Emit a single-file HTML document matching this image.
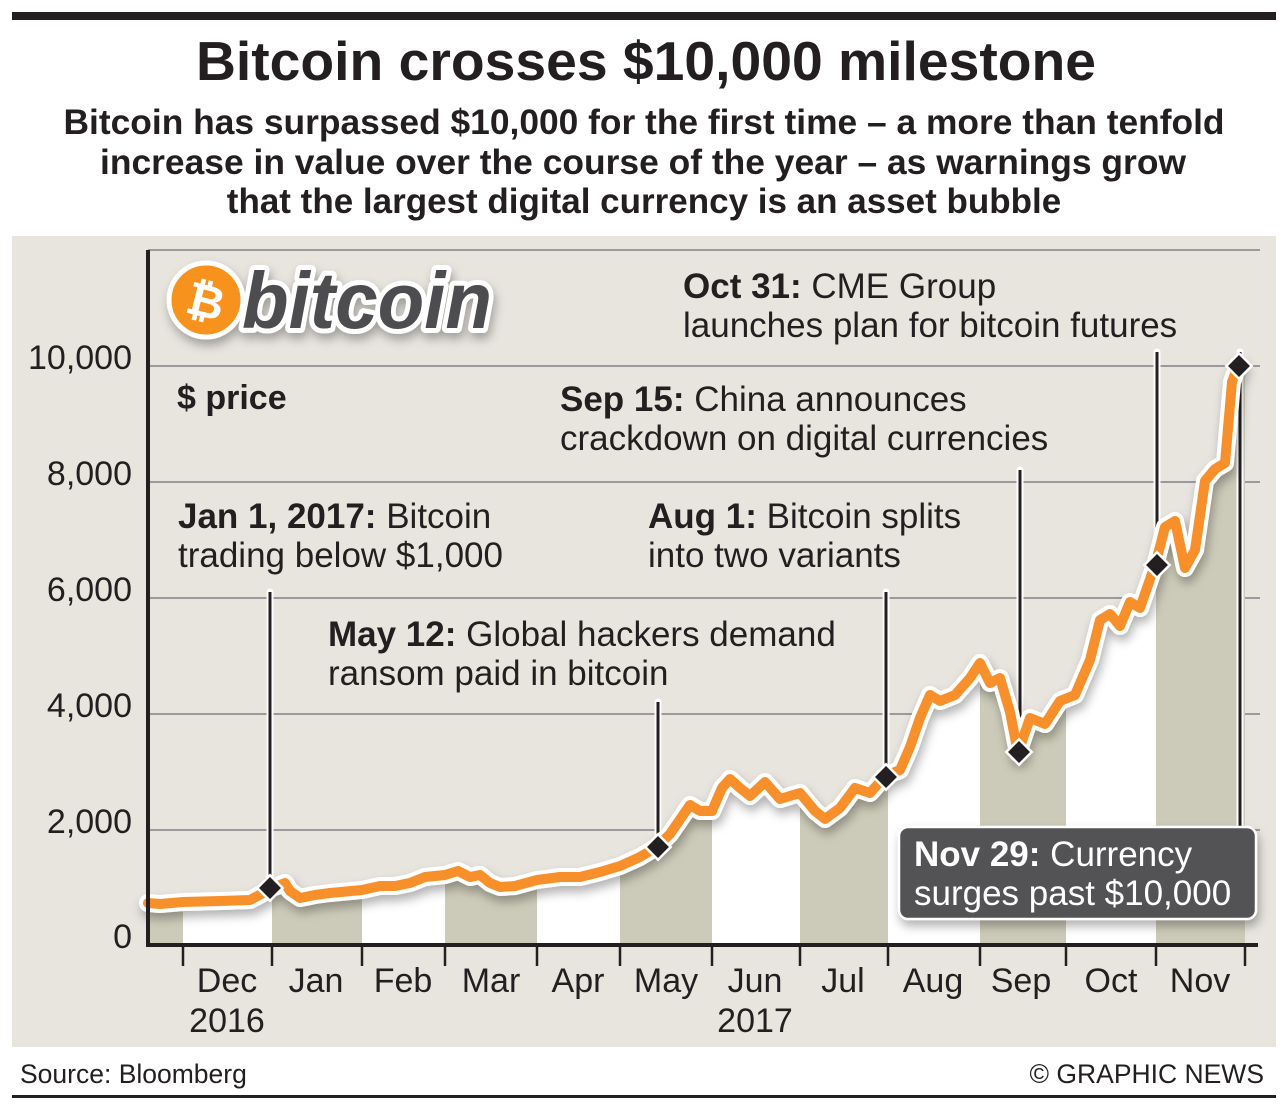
<!DOCTYPE html>
<html><head><meta charset="utf-8"><style>
body{margin:0;background:#fff;width:1288px;height:1108px;overflow:hidden}
svg{display:block}
text{font-family:"Liberation Sans",Arial,sans-serif;fill:#231f20}
</style></head><body>
<svg width="1288" height="1108" viewBox="0 0 1288 1108">
<defs>
<filter id="sh" x="-10%" y="-10%" width="130%" height="140%"><feDropShadow dx="2" dy="6" stdDeviation="5" flood-color="#000" flood-opacity="0.3"/></filter>
<clipPath id="under"><path id="areaP" d=""/></clipPath>
</defs>
<rect x="12" y="12" width="1264" height="8" fill="#231f20"/>
<text x="646" y="80" text-anchor="middle" font-size="55" font-weight="bold" textLength="900" lengthAdjust="spacingAndGlyphs">Bitcoin crosses $10,000 milestone</text>
<g font-size="35" font-weight="bold" text-anchor="middle">
<text x="644" y="134" textLength="1161" lengthAdjust="spacingAndGlyphs">Bitcoin has surpassed $10,000 for the first time – a more than tenfold</text>
<text x="643" y="174" textLength="1086" lengthAdjust="spacingAndGlyphs">increase in value over the course of the year – as warnings grow</text>
<text x="644" y="213">that the largest digital currency is an asset bubble</text>
</g>
<rect x="12" y="236" width="1264" height="811" fill="#e8e5df"/>
<g stroke="#9a9a9e" stroke-width="2">
<line x1="148" y1="250" x2="1260" y2="250"/>
<line x1="148" y1="366" x2="1260" y2="366"/>
<line x1="148" y1="482" x2="1260" y2="482"/>
<line x1="148" y1="598" x2="1260" y2="598"/>
<line x1="148" y1="714" x2="1260" y2="714"/>
<line x1="148" y1="830" x2="1260" y2="830"/>
</g>
<g id="bands" clip-path="url(#under)">
<rect x="148" y="300" width="1100" height="645" fill="#fff"/>
<g fill="#cccbb9">
<rect x="148" y="300" width="35" height="645"/>
<rect x="272" y="300" width="90" height="645"/>
<rect x="445" y="300" width="92" height="645"/>
<rect x="620" y="300" width="92" height="645"/>
<rect x="800" y="300" width="88" height="645"/>
<rect x="980" y="300" width="86" height="645"/>
<rect x="1156" y="300" width="89" height="645"/>
</g>
</g>
<g stroke="#fff" stroke-width="7" stroke-linecap="round">
<line x1="270" y1="592" x2="270" y2="888"/>
<line x1="658" y1="702" x2="658" y2="847"/>
<line x1="886" y1="592" x2="886" y2="777"/>
<line x1="1020" y1="470" x2="1020" y2="752"/>
<line x1="1157" y1="352" x2="1157" y2="565"/>
<line x1="1240" y1="352" x2="1240" y2="830"/>
</g>
<g stroke="#231f20" stroke-width="3">
<line x1="270" y1="592" x2="270" y2="888"/>
<line x1="658" y1="702" x2="658" y2="847"/>
<line x1="886" y1="592" x2="886" y2="777"/>
<line x1="1020" y1="470" x2="1020" y2="752"/>
<line x1="1157" y1="352" x2="1157" y2="565"/>
<line x1="1240" y1="352" x2="1240" y2="830"/>
</g>
<g id="line" fill="none" stroke-linejoin="round" stroke-linecap="round">
<polyline id="halo" points="" stroke="#fff" stroke-width="18" filter="url(#sh)"/>
<polyline id="core" points="" stroke="#f7902a" stroke-width="10"/>
</g>
<g fill="#231f20" stroke="#fff" stroke-width="2.5">
<rect x="-9" y="-9" width="18" height="18" transform="translate(270,888) rotate(45)"/>
<rect x="-9" y="-9" width="18" height="18" transform="translate(658,847) rotate(45)"/>
<rect x="-9" y="-9" width="18" height="18" transform="translate(886,777) rotate(45)"/>
<rect x="-9" y="-9" width="18" height="18" transform="translate(1019,752) rotate(45)"/>
<rect x="-9" y="-9" width="18" height="18" transform="translate(1157,565) rotate(45)"/>
<rect x="-9" y="-9" width="18" height="18" transform="translate(1239,366) rotate(45)"/>
</g>
<rect x="146" y="250" width="4" height="697" fill="#231f20"/>
<rect x="146" y="943" width="1112" height="4" fill="#231f20"/>
<g stroke="#231f20" stroke-width="2.5">
<line x1="183" y1="945" x2="183" y2="966"/><line x1="272" y1="945" x2="272" y2="966"/>
<line x1="362" y1="945" x2="362" y2="966"/><line x1="445" y1="945" x2="445" y2="966"/>
<line x1="537" y1="945" x2="537" y2="966"/><line x1="620" y1="945" x2="620" y2="966"/>
<line x1="712" y1="945" x2="712" y2="966"/><line x1="800" y1="945" x2="800" y2="966"/>
<line x1="888" y1="945" x2="888" y2="966"/><line x1="980" y1="945" x2="980" y2="966"/>
<line x1="1066" y1="945" x2="1066" y2="966"/><line x1="1156" y1="945" x2="1156" y2="966"/>
<line x1="1245" y1="945" x2="1245" y2="966"/>
</g>
<g font-size="34" text-anchor="end">
<text x="132" y="369">10,000</text><text x="132" y="485">8,000</text>
<text x="132" y="601">6,000</text><text x="132" y="717">4,000</text>
<text x="132" y="833">2,000</text><text x="132" y="948">0</text>
</g>
<g font-size="34" text-anchor="middle">
<text x="227" y="992">Dec</text><text x="227" y="1032">2016</text>
<text x="316" y="992">Jan</text><text x="403" y="992">Feb</text>
<text x="491" y="992">Mar</text><text x="578" y="992">Apr</text>
<text x="666" y="992">May</text><text x="755" y="992">Jun</text><text x="755" y="1032">2017</text>
<text x="843" y="992">Jul</text><text x="933" y="992">Aug</text>
<text x="1021" y="992">Sep</text><text x="1111" y="992">Oct</text><text x="1200" y="992">Nov</text>
</g>
<g filter="url(#sh)">
<circle cx="206" cy="300" r="37" fill="#f7931a" stroke="#fff" stroke-width="5"/>
<text x="492" y="328" font-size="80" font-weight="bold" font-style="italic" text-anchor="end" stroke="#fff" stroke-width="10" stroke-linejoin="round" paint-order="stroke" style="fill:#4d4d4f" textLength="250" lengthAdjust="spacingAndGlyphs">bitcoin</text>
</g>
<text x="206" y="317" font-size="46" font-weight="bold" text-anchor="middle" style="fill:#fff" transform="rotate(14 206 300)">₿</text>
<text x="177" y="409" font-size="34" font-weight="bold">$ price</text>
<g font-size="35">
<text x="178" y="528"><tspan font-weight="bold">Jan 1, 2017:</tspan> Bitcoin</text>
<text x="178" y="567">trading below $1,000</text>
<text x="328" y="646"><tspan font-weight="bold">May 12:</tspan> Global hackers demand</text>
<text x="328" y="685">ransom paid in bitcoin</text>
<text x="648" y="528"><tspan font-weight="bold">Aug 1:</tspan> Bitcoin splits</text>
<text x="648" y="567">into two variants</text>
<text x="560" y="411"><tspan font-weight="bold">Sep 15:</tspan> China announces</text>
<text x="560" y="450">crackdown on digital currencies</text>
<text x="683" y="298"><tspan font-weight="bold">Oct 31:</tspan> CME Group</text>
<text x="683" y="337">launches plan for bitcoin futures</text>
</g>
<rect x="899" y="827" width="357" height="92" rx="9" fill="#535355" stroke="#fff" stroke-width="2.5" filter="url(#sh)"/>
<g font-size="35">
<text x="914" y="866" style="fill:#fff"><tspan font-weight="bold">Nov 29:</tspan> Currency</text>
<text x="914" y="905" style="fill:#fff">surges past $10,000</text>
</g>
<text x="20" y="1083" font-size="26.5">Source: Bloomberg</text>
<text x="1264" y="1083" font-size="26.5" text-anchor="end">© GRAPHIC NEWS</text>
<rect x="12" y="1095" width="1264" height="3" fill="#231f20"/>
</svg>
<script>
var p=[[148,903],[160,904],[183,902],[220,901],[250,900],[265,892],[272,888],[285,883],[290,891],[300,898],[315,895],[330,893],[362,890],[380,886],[395,886],[410,883],[425,877],[445,875],[458,871],[470,877],[480,875],[490,883],[500,887],[515,886],[537,880],[560,877],[580,877],[600,872],[620,866],[640,857],[658,846],[670,834],[690,805],[700,811],[712,811],[722,788],[730,779],[740,788],[750,796],[765,782],[780,799],[800,793],[815,811],[825,819],[840,808],[855,788],[870,793],[885,776],[900,770],[910,747],[920,718],[930,695],[940,701],[955,695],[970,678],[980,663],[990,683],[1000,678],[1010,712],[1018,753],[1030,718],[1045,724],[1060,701],[1075,695],[1090,660],[1100,620],[1110,614],[1120,626],[1130,602],[1140,608],[1156,562],[1165,527],[1175,521],[1185,568],[1195,550],[1205,481],[1215,469],[1225,463],[1232,382],[1238,365]];
var s=p.map(function(a){return a.join(',')}).join(' ');
document.getElementById('halo').setAttribute('points',s);
document.getElementById('core').setAttribute('points',s);
document.getElementById('areaP').setAttribute('d','M148,945 L'+p.map(function(a){return a.join(',')}).join(' L')+' L1245,365 L1245,945 Z');
</script>
</body></html>
